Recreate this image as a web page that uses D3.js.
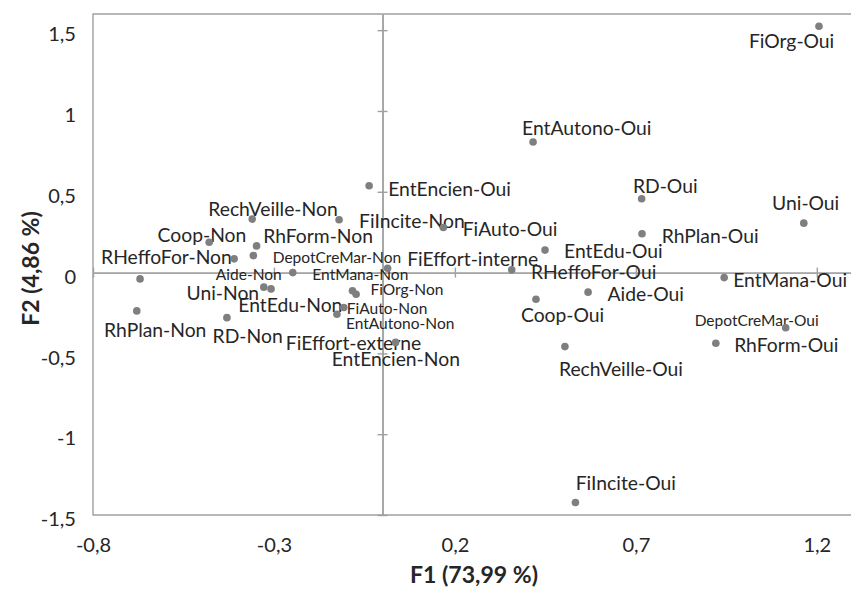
<!DOCTYPE html>
<html>
<head>
<meta charset="utf-8">
<script src="https://cdn.jsdelivr.net/npm/d3@7"></script>
<style>
html, body { margin: 0; padding: 0; background: #ffffff; }
svg { display: block; }
text { font-family: Lato, "Open Sans", sans-serif; fill: #262626; }
</style>
</head>
<body>
<svg id="chart" width="851" height="593"></svg>
<script>
// ---------------- DATA ----------------
const categories = [
  "FiOrg-Oui", "EntAutono-Oui", "RD-Oui", "RhPlan-Oui", "EntEdu-Oui", "RHeffoFor-Oui",
  "Aide-Oui", "Coop-Oui", "RechVeille-Oui", "Uni-Oui", "EntMana-Oui", "DepotCreMar-Oui",
  "RhForm-Oui", "FiIncite-Oui", "FiAuto-Oui", "EntEncien-Oui", "FiEffort-interne",
  "RechVeille-Non", "Coop-Non", "RhForm-Non", "DepotCreMar-Non", "Aide-Non", "RHeffoFor-Non",
  "RhPlan-Non", "RD-Non", "Uni-Non", "EntEdu-Non", "EntMana-Non", "FiOrg-Non",
  "FiAuto-Non", "EntAutono-Non", "FiEffort-externe", "EntEncien-Non", "FiIncite-Non"
];
const f1Values = [
  1.206, 0.416, 0.716, 0.717, 0.449, 0.357,
  0.568, 0.424, 0.504, 1.164, 0.944, 1.114,
  0.921, 0.533, 0.168, -0.037, 0.014,
  -0.360, -0.479, -0.348, -0.357, -0.410, -0.670,
  -0.679, -0.430, -0.328, -0.308, -0.248, -0.083,
  -0.073, -0.126, -0.107, 0.036, -0.120
];
const f2Values = [
  1.524, 0.808, 0.457, 0.240, 0.139, 0.017,
  -0.121, -0.165, -0.458, 0.306, -0.031, -0.341,
  -0.437, -1.423, 0.279, 0.537, 0.027,
  0.331, 0.188, 0.165, 0.105, 0.085, -0.039,
  -0.237, -0.279, -0.090, -0.101, 0.000, -0.112,
  -0.134, -0.258, -0.216, -0.432, 0.327
];
const xTickValues = [-0.8, -0.3, 0.2, 0.7, 1.2];
const yTickValues = [-1.5, -1, -0.5, 0, 0.5, 1, 1.5];
const xDomain = [-0.8, 1.3];
const yDomain = [-1.5, 1.6];
const xAxisTitle = "F1 (73,99 %)";
const yAxisTitle = "F2 (4,86 %)";

// ---------------- LAYOUT (label placement, px relative to point; small = 1) ----------------
const labelLayout = {
  "FiOrg-Oui": [-70, 14.3, 0],
  "EntAutono-Oui": [-11, -14, 0],
  "RD-Oui": [-8.7, -13, 0],
  "RhPlan-Oui": [19.7, 2.7, 0],
  "EntEdu-Oui": [19, 1.4, 0],
  "RHeffoFor-Oui": [19.3, 2, 0],
  "Aide-Oui": [19.4, 2.4, 0],
  "Coop-Oui": [-15, 16, 0],
  "RechVeille-Oui": [-6, 22, 0],
  "Uni-Oui": [-31.7, -20.5, 0],
  "EntMana-Oui": [9, 2.5, 0],
  "DepotCreMar-Oui": [-91, -7.7, 1],
  "RhForm-Oui": [18.3, 1.7, 0],
  "FiIncite-Oui": [0.3, -19.8, 0],
  "FiAuto-Oui": [19.4, 2, 0],
  "EntEncien-Oui": [19, 2.8, 0],
  "FiEffort-interne": [19.6, -9.5, 0],
  "RechVeille-Non": [-44, -10.5, 0],
  "Coop-Non": [-51.6, -7.3, 0],
  "RhForm-Non": [6.6, -10.2, 0],
  "DepotCreMar-Non": [19.4, 1.5, 1],
  "Aide-Non": [-18.3, 15.2, 1],
  "RHeffoFor-Non": [-39, -22.2, 0],
  "RhPlan-Non": [-32.7, 19.5, 0],
  "RD-Non": [-14.3, 18, 0],
  "Uni-Non": [-77.3, 5.5, 0],
  "EntEdu-Non": [-32.7, 15.7, 0],
  "EntMana-Non": [19.6, 1.5, 1],
  "FiOrg-Non": [18, -1.2, 1],
  "FiAuto-Non": [-9.3, 13.7, 1],
  "EntAutono-Non": [9, 8.7, 1],
  "FiEffort-externe": [-58, 35.5, 0],
  "EntEncien-Non": [-63.8, 16.2, 0],
  "FiIncite-Non": [20, 1.2, 0]
};

const points = categories.map((c, i) => ({ name: c, f1: f1Values[i], f2: f2Values[i] }));

// ---------------- CHART ----------------
const svg = d3.select("#chart");
const plot = { left: 93, right: 853, top: 14, bottom: 515 };
const lineColor = "#a0a0a0";
const dotColor = "#7f7f7f";

const x = d3.scaleLinear().domain(xDomain).range([plot.left, plot.right]);
const y = d3.scaleLinear().domain(yDomain).range([plot.bottom, plot.top]);

const loc = d3.formatLocale({ decimal: ",", thousands: " ", grouping: [3], currency: ["", " €"], minus: "-" });
const fmt = loc.format("~g");

function fitSize(text, target, weight) {
  const t = svg.append("text").attr("font-size", 100).attr("font-weight", weight || "normal").text(text);
  const w = t.node().getComputedTextLength();
  t.remove();
  return 100 * target / w;
}
const largeSize = fitSize("RechVeille-Oui", 124);
const smallSize = fitSize("EntMana-Non", 96);
const tickFont = (fitSize("-0,3", 35) + fitSize("1,5", 28)) / 2;
const titleFont = fitSize(xAxisTitle, 128, "bold");

// frame (left, top, bottom)
svg.append("path")
  .attr("d", `M${plot.right},${plot.top}H${plot.left}V${plot.bottom}H${plot.right}`)
  .attr("fill", "none").attr("stroke", lineColor).attr("stroke-width", 1.4);

// origin axes with crossing tick marks
function styleAxis(g) {
  g.select(".domain").attr("stroke", lineColor).attr("stroke-width", 1.4);
  g.selectAll(".tick line").attr("stroke", lineColor).attr("stroke-width", 1.4);
  g.selectAll(".tick text").remove();
}
svg.append("g").attr("transform", `translate(0,${y(0)})`)
  .call(d3.axisBottom(x).tickValues(xTickValues).tickSize(5).tickSizeOuter(0).tickFormat(""))
  .call(styleAxis);
svg.append("g").attr("transform", `translate(0,${y(0)})`)
  .call(d3.axisTop(x).tickValues(xTickValues).tickSize(5).tickSizeOuter(0).tickFormat(""))
  .call(styleAxis);
svg.append("g").attr("transform", `translate(${x(0)},0)`)
  .call(d3.axisLeft(y).tickValues(yTickValues).tickSize(5).tickSizeOuter(0).tickFormat(""))
  .call(styleAxis);
svg.append("g").attr("transform", `translate(${x(0)},0)`)
  .call(d3.axisRight(y).tickValues(yTickValues).tickSize(5).tickSizeOuter(0).tickFormat(""))
  .call(styleAxis);

// tick labels on the frame
const yLab = svg.append("g").attr("transform", `translate(${plot.left},0)`)
  .call(d3.axisLeft(y).tickValues(yTickValues).tickSize(0).tickPadding(17).tickFormat(fmt));
yLab.select(".domain").remove();
yLab.selectAll(".tick text")
  .attr("font-size", tickFont).attr("font-family", "Lato, 'Open Sans', sans-serif")
  .attr("fill", "#262626").attr("y", 3.5).attr("dy", "0.36em");

const xLab = svg.append("g").attr("transform", `translate(0,${plot.bottom})`)
  .call(d3.axisBottom(x).tickValues(xTickValues).tickSize(0).tickFormat(fmt));
xLab.select(".domain").remove();
xLab.selectAll(".tick text")
  .attr("font-size", tickFont).attr("font-family", "Lato, 'Open Sans', sans-serif")
  .attr("fill", "#262626").attr("y", 30).attr("dy", "0.36em");

// axis titles
svg.append("text")
  .attr("x", (plot.left + plot.right) / 2 + 1).attr("y", 575).attr("dy", "0.36em")
  .attr("text-anchor", "middle").attr("font-weight", "bold").attr("font-size", titleFont)
  .text(xAxisTitle);
svg.append("text")
  .attr("transform", `translate(31,${(plot.top + plot.bottom) / 2 + 4}) rotate(-90)`)
  .attr("dy", "0.36em")
  .attr("text-anchor", "middle").attr("font-weight", "bold").attr("font-size", titleFont)
  .text(yAxisTitle);

// labels
svg.append("g").selectAll("text")
  .data(points).join("text")
  .attr("x", d => x(d.f1) + labelLayout[d.name][0])
  .attr("y", d => y(d.f2) + labelLayout[d.name][1])
  .attr("dy", "0.36em")
  .attr("font-size", d => labelLayout[d.name][2] ? smallSize : largeSize)
  .text(d => d.name);

// points
svg.append("g").selectAll("circle")
  .data(points).join("circle")
  .attr("cx", d => x(d.f1))
  .attr("cy", d => y(d.f2))
  .attr("r", 3.8)
  .attr("fill", dotColor);
</script>
</body>
</html>
